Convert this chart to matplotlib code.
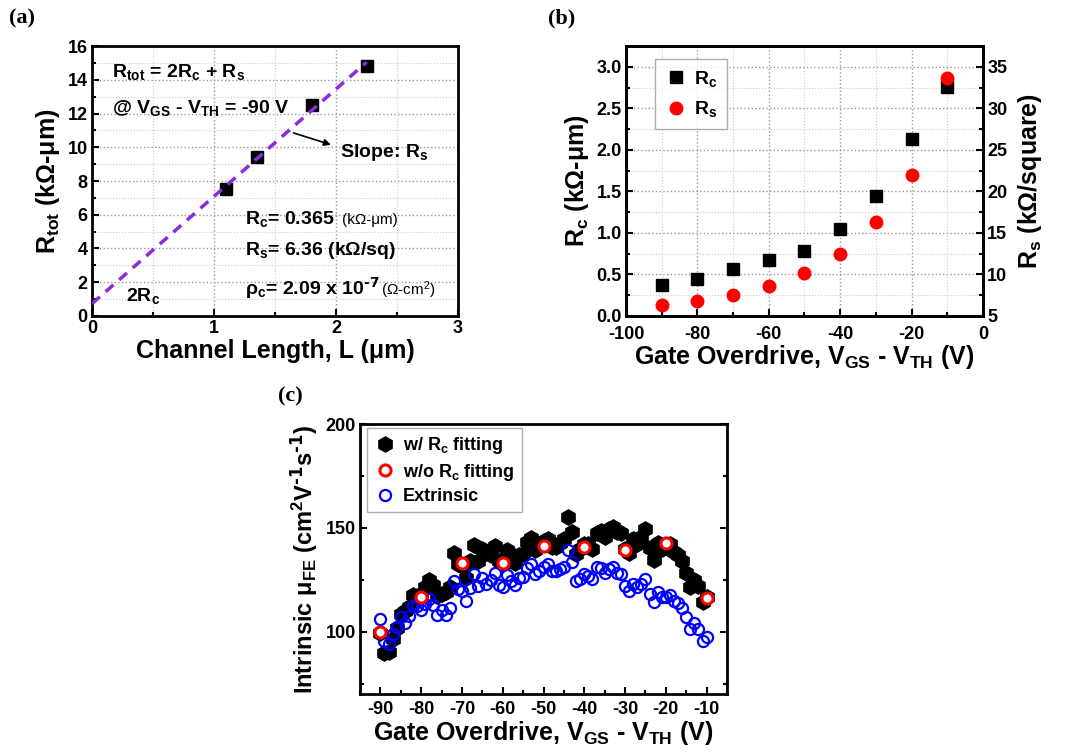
import numpy as np
import matplotlib
matplotlib.use("Agg")
import matplotlib.pyplot as plt
from matplotlib.ticker import MultipleLocator

plt.rcParams['font.family'] = ['Liberation Sans', 'DejaVu Sans']
plt.rcParams['font.weight'] = 'bold'
plt.rcParams['mathtext.default'] = 'regular'
plt.rcParams['axes.unicode_minus'] = False

# panel (a): total resistance vs channel length
L_um = [1.1, 1.35, 1.8, 2.25]
R_tot = [7.55, 9.4, 12.5, 14.8]
fit_L = [0.0, 2.25]
two_Rc = 0.73
Rs_slope = 6.36

# panel (b): contact and sheet resistance vs gate overdrive
V_b = [-90, -80, -70, -60, -50, -40, -30, -20, -10]
Rc_b = [0.37, 0.45, 0.57, 0.67, 0.78, 1.05, 1.45, 2.13, 2.76]
Rs_b = [6.3, 6.8, 7.5, 8.6, 10.2, 12.5, 16.3, 22.0, 33.7]

# panel (c): mobility vs gate overdrive
V_c = list(range(-90, -9))
mu_ext = [106.1, 95.4, 94.1, 98.9, 102.4, 107.2, 104.0, 107.7, 112.5, 112.5,
          110.4, 113.3, 115.7, 113.0, 108.0, 110.4, 108.0, 111.2, 124.5, 120.5,
          119.4, 114.9, 121.0, 128.0, 122.1, 126.1, 122.9, 124.8, 128.4, 122.6,
          121.3, 127.4, 124.5, 122.6, 126.1, 126.4, 130.9, 132.5, 128.0, 129.0,
          131.2, 132.5, 129.3, 129.0, 130.1, 131.2, 139.4, 133.7, 124.5, 125.3,
          127.7, 126.9, 125.3, 131.2, 130.6, 128.5, 130.1, 131.2, 128.5, 127.7,
          121.8, 119.7, 123.2, 121.6, 122.9, 125.3, 118.4, 114.1, 118.9, 116.5,
          116.8, 117.8, 114.9, 113.6, 111.4, 107.2, 101.3, 104.0, 101.3, 95.7,
          97.6]
mu_fit = [99.5, 89.7, 90.0, 96.5, 102.0, 108.5, 110.0, 111.7, 117.8, 117.3,
          116.5, 121.3, 124.8, 122.6, 117.3, 118.4, 118.9, 121.3, 137.8, 132.5,
          131.7, 125.8, 134.1, 141.8, 134.1, 139.7, 138.1, 137.0, 141.3, 134.1,
          132.5, 139.3, 137.3, 132.9, 137.0, 137.3, 143.4, 145.0, 139.3, 142.1,
          143.7, 144.6, 140.9, 140.9, 142.9, 144.6, 155.4, 147.8, 137.3, 139.7,
          142.1, 142.1, 139.7, 147.3, 148.6, 145.7, 149.4, 150.5, 147.8, 147.3,
          139.7, 138.1, 144.6, 142.1, 145.7, 149.4, 140.5, 134.5, 142.5, 139.7,
          140.9, 142.1, 138.6, 137.0, 134.1, 128.5, 121.3, 124.8, 122.1, 114.1,
          116.5]
V_nofit = [-90, -80, -70, -60, -50, -40, -30, -20, -10]
mu_nofit = [99.7, 116.8, 132.9, 133.3, 141.3, 141.0, 139.4, 142.9, 116.0]

TICK_FS = 13
LABEL_FS = 18


def style_axes(ax):
    for sp in ax.spines.values():
        sp.set_linewidth(2)
    ax.tick_params(which='both', direction='in', width=1.5, labelsize=TICK_FS, pad=3)
    ax.tick_params(which='major', length=5)
    ax.tick_params(which='minor', length=3)
    for lab in ax.get_xticklabels() + ax.get_yticklabels():
        lab.set_fontweight('bold')


def add_grid(ax):
    ax.grid(which='major', color='#999999', linestyle=':', linewidth=1.0)
    ax.grid(which='minor', color='#cccccc', linestyle=':', linewidth=0.8)
    ax.set_axisbelow(True)


fig = plt.figure(figsize=(10.75, 7.52), dpi=100)

# ---------- (a) ----------
ax_a = fig.add_axes([0.0856, 0.5798, 0.3405, 0.359])
add_grid(ax_a)
ax_a.plot(L_um, R_tot, 's', color='black', markersize=8, zorder=3)
fit_R = [two_Rc + Rs_slope * l for l in fit_L]
ax_a.plot(fit_L, fit_R, '--', color='#8a2be2', linewidth=2.5, dashes=(3, 2.2), zorder=4)
ax_a.set_xlim(0, 3)
ax_a.set_ylim(0, 16)
ax_a.xaxis.set_major_locator(MultipleLocator(1))
ax_a.xaxis.set_minor_locator(MultipleLocator(0.5))
ax_a.yaxis.set_major_locator(MultipleLocator(2))
ax_a.yaxis.set_minor_locator(MultipleLocator(1))
style_axes(ax_a)
ax_a.set_xlabel('Channel Length, L (μm)', fontsize=LABEL_FS, fontweight='bold', labelpad=1)
ax_a.set_ylabel('R$_{tot}$ (kΩ-μm)', fontsize=LABEL_FS, fontweight='bold', labelpad=4)

ax_a.text(0.16, 14.45, 'R$_{tot}$ = 2R$_c$ + R$_s$', fontsize=14, fontweight='bold', va='center')
ax_a.text(0.16, 12.35, '@ V$_{GS}$ - V$_{TH}$ = -90 V', fontsize=14, fontweight='bold', va='center')
ax_a.annotate('', xy=(1.98, 10.1), xytext=(1.63, 10.9),
              arrowprops=dict(arrowstyle='-|>', color='black', lw=1.2, mutation_scale=10))
ax_a.text(2.03, 9.7, 'Slope: R$_s$', fontsize=14, fontweight='bold', va='center')
ax_a.text(1.25, 5.77, 'R$_c$= 0.365', fontsize=14, fontweight='bold', va='center')
ax_a.text(2.05, 5.7, '(kΩ-μm)', fontsize=11, fontweight='normal', va='center')
ax_a.text(1.25, 3.9, 'R$_s$= 6.36 (kΩ/sq)', fontsize=14, fontweight='bold', va='center')
ax_a.text(1.25, 1.62, 'ρ$_c$= 2.09 x 10$^{\\text{-7}}$', fontsize=14, fontweight='bold', va='center')
ax_a.text(2.37, 1.55, '(Ω-cm$^2$)', fontsize=11, fontweight='normal', va='center')
ax_a.text(0.28, 1.2, '2R$_c$', fontsize=14, fontweight='bold', va='center')

# ---------- (b) ----------
ax_b = fig.add_axes([0.5823, 0.5798, 0.3321, 0.359])
add_grid(ax_b)
h_rc, = ax_b.plot(V_b, Rc_b, 's', color='black', markersize=8.5, zorder=3, label='R$_c$')
ax_b.set_xlim(-100, 0)
ax_b.set_ylim(0, 3.25)
ax_b.xaxis.set_major_locator(MultipleLocator(20))
ax_b.xaxis.set_minor_locator(MultipleLocator(10))
ax_b.yaxis.set_major_locator(MultipleLocator(0.5))
ax_b.yaxis.set_minor_locator(MultipleLocator(0.25))
ax_b.yaxis.set_major_formatter(plt.FormatStrFormatter('%.1f'))
style_axes(ax_b)
ax_b.tick_params(axis='x', pad=7)
ax_b.set_xlabel('Gate Overdrive, V$_{GS}$ - V$_{TH}$ (V)', fontsize=LABEL_FS, fontweight='bold', labelpad=0)
ax_b.set_ylabel('R$_c$ (kΩ-μm)', fontsize=LABEL_FS, fontweight='bold', labelpad=4)

ax_b2 = ax_b.twinx()
h_rs, = ax_b2.plot(V_b, Rs_b, 'o', color='#ff0000', markersize=9, zorder=3, label='R$_s$')
ax_b2.set_ylim(5, 37.5)
ax_b2.yaxis.set_major_locator(MultipleLocator(5))
ax_b2.yaxis.set_minor_locator(MultipleLocator(2.5))
style_axes(ax_b2)
ax_b2.set_ylabel('R$_s$ (kΩ/square)', fontsize=LABEL_FS, fontweight='bold', labelpad=6)
leg_b = ax_b2.legend(handles=[h_rc, h_rs], loc='upper left', bbox_to_anchor=(0.081, 0.952),
                     borderaxespad=0, fontsize=14, frameon=True, fancybox=False,
                     edgecolor='#999999', handletextpad=0.3, borderpad=0.5,
                     labelspacing=0.55, handlelength=1.2)
leg_b.get_frame().set_linewidth(1.0)
for t in leg_b.get_texts():
    t.set_fontweight('bold')

# ---------- (c) ----------
ax_c = fig.add_axes([0.3349, 0.0771, 0.3414, 0.359])
ax_c.plot(V_c, mu_fit, 'h', color='black', markersize=11, linestyle='none',
          label='w/ R$_c$ fitting', zorder=2)
ax_c.plot(V_c, mu_ext, 'o', markerfacecolor='none', markeredgecolor='#0000ff',
          markeredgewidth=1.6, markersize=8, linestyle='none', label='Extrinsic', zorder=3)
ax_c.plot(V_nofit, mu_nofit, 'o', markerfacecolor='white', markeredgecolor='#ff0000',
          markeredgewidth=2.2, markersize=8, linestyle='none', label='w/o R$_c$ fitting', zorder=4)
ax_c.set_xlim(-95, -5)
ax_c.set_ylim(70, 200)
ax_c.xaxis.set_major_locator(MultipleLocator(10))
ax_c.xaxis.set_minor_locator(MultipleLocator(5))
ax_c.yaxis.set_major_locator(MultipleLocator(50))
ax_c.yaxis.set_minor_locator(MultipleLocator(25))
ax_c.tick_params(which='both', right=True)
style_axes(ax_c)
ax_c.tick_params(axis='x', pad=5)
ax_c.set_xlabel('Gate Overdrive, V$_{GS}$ - V$_{TH}$ (V)', fontsize=LABEL_FS, fontweight='bold', labelpad=1)
ax_c.set_ylabel('Intrinsic μ$_{FE}$ (cm$^2$V$^{\\text{-1}}$s$^{\\text{-1}}$)', fontsize=17,
                fontweight='bold', labelpad=4)
handles, labels = ax_c.get_legend_handles_labels()
order = [0, 2, 1]
leg_c = ax_c.legend([handles[i] for i in order], [labels[i] for i in order],
                    loc='upper left', bbox_to_anchor=(0.019, 0.985), borderaxespad=0,
                    fontsize=13, frameon=True, fancybox=False, edgecolor='#999999',
                    handletextpad=0.4, borderpad=0.4, labelspacing=0.3, handlelength=1.2)
leg_c.get_frame().set_linewidth(1.0)
for t in leg_c.get_texts():
    t.set_fontweight('bold')

# panel letters
fig.text(0.008, 0.975, '(a)', fontsize=16, fontweight='bold', family='Liberation Serif', va='center')
fig.text(0.51, 0.975, '(b)', fontsize=16, fontweight='bold', family='Liberation Serif', va='center')
fig.text(0.259, 0.473, '(c)', fontsize=16, fontweight='bold', family='Liberation Serif', va='center')

fig.savefig('out.png', dpi=100)
